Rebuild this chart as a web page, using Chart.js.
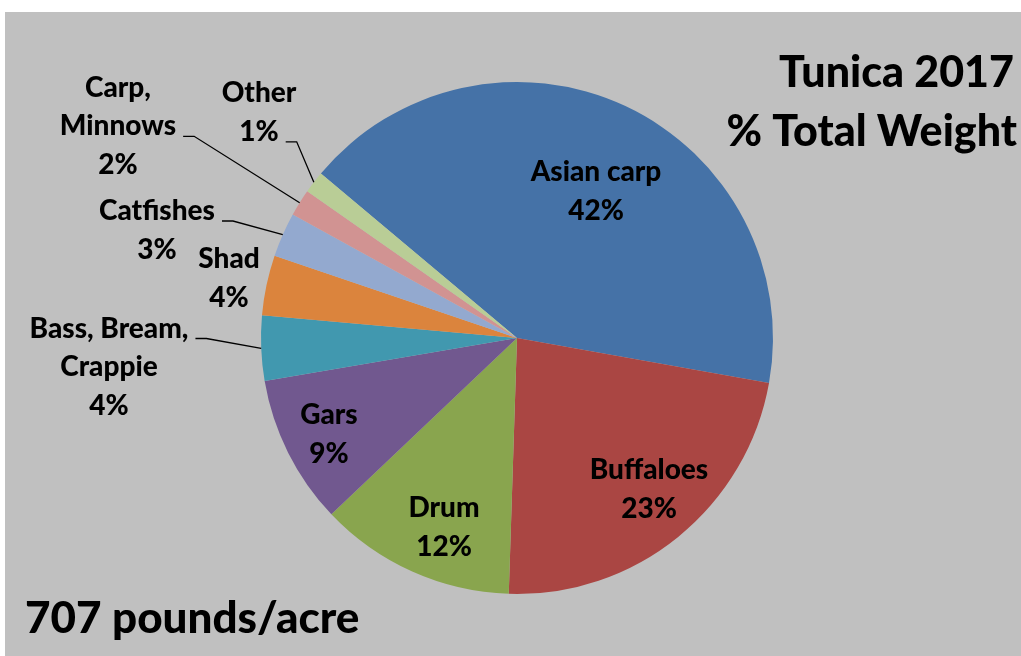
<!DOCTYPE html>
<html>
<head>
<meta charset="utf-8">
<script src="https://cdn.jsdelivr.net/npm/chart.js@4.4.0/dist/chart.umd.min.js"></script>
<style>
  html, body { margin: 0; padding: 0; background: #ffffff; }
  canvas { display: block; }
</style>
</head>
<body>
<canvas id="grafico" width="1021" height="656"></canvas>
<script>
// Datos (porcentaje del peso total)
const categorias = ['Asian carp', 'Buffaloes', 'Drum', 'Gars', 'Bass, Bream, Crappie', 'Shad', 'Catfishes', 'Carp, Minnows', 'Other'];
const pesos = [41.7, 22.7, 12.4, 9.4, 4.1, 3.8, 2.8, 1.7, 1.4];
const colores = ['#4572A7', '#AA4643', '#89A54E', '#71588F', '#4198AF', '#DB843D', '#93A9CF', '#D19392', '#B9CD96'];
const titulo = ['Tunica 2017', '% Total Weight'];
const nota = '707 pounds/acre';

// Posición de cada etiqueta (centro x, primera línea base y) y línea guía
const posEtiquetas = [
  { x: 596, y: 181 },
  { x: 649, y: 479 },
  { x: 444, y: 517 },
  { x: 329, y: 424 },
  { x: 109, y: 337.5, guia: 0 },
  { x: 229, y: 268 },
  { x: 157, y: 220, guia: 0 },
  { x: 118, y: 96.5, guia: 1 },
  { x: 259, y: 102, guia: 1 }
];

const fuente = 'Lato, "Open Sans", sans-serif';
const altoLinea = 38.8;

function partir(nombre) {
  let i = nombre.lastIndexOf(', ');
  if (i < 0) return [nombre];
  return [nombre.slice(0, i + 1), nombre.slice(i + 2)];
}

const fondo = {
  id: 'fondo',
  beforeDraw(chart) {
    let ctx = chart.ctx;
    ctx.save();
    ctx.fillStyle = '#C0C0C0';
    ctx.fillRect(5, 12, chart.width - 5, chart.height - 12);
    ctx.restore();
  }
};

const etiquetas = {
  id: 'etiquetas',
  afterDatasetsDraw(chart) {
    let ctx = chart.ctx;
    let meta = chart.getDatasetMeta(0);
    let total = pesos.reduce((a, b) => a + b, 0);
    ctx.save();
    ctx.fillStyle = '#000';
    ctx.strokeStyle = '#000';
    ctx.lineWidth = 1.3;
    ctx.textAlign = 'center';
    ctx.textBaseline = 'alphabetic';
    ctx.font = '900 28px ' + fuente;
    meta.data.forEach((arco, i) => {
      let p = posEtiquetas[i];
      let lineas = partir(categorias[i]);
      lineas.push(Math.round(pesos[i] / total * 100) + '%');
      lineas.forEach((t, k) => ctx.fillText(t, p.x, p.y + k * altoLinea));
      if (p.guia !== undefined) {
        let w = ctx.measureText(lineas[p.guia]).width;
        let x0 = p.x + w / 2 + 7;
        let y0 = p.y + p.guia * altoLinea + 1;
        let medio = (arco.startAngle + arco.endAngle) / 2;
        let x2 = arco.x + Math.cos(medio) * arco.outerRadius;
        let y2 = arco.y + Math.sin(medio) * arco.outerRadius;
        ctx.beginPath();
        ctx.moveTo(x0, y0);
        ctx.lineTo(x0 + 11, y0);
        ctx.lineTo(x2, y2);
        ctx.stroke();
      }
    });
    // Títulos
    ctx.font = '900 43px ' + fuente;
    ctx.textAlign = 'right';
    ctx.fillText(titulo[0], 1014, 87);
    ctx.fillText(titulo[1], 1017, 146);
    ctx.textAlign = 'left';
    ctx.font = '900 44px ' + fuente;
    ctx.fillText(nota, 25, 633);
    ctx.restore();
  }
};

function dibujar() {
  let grafico = document.getElementById('grafico').getContext('2d');
  new Chart(grafico, {
    type: 'pie',
    data: {
      labels: categorias,
      datasets: [{
        data: pesos,
        backgroundColor: colores,
        borderWidth: 0
      }]
    },
    options: {
      responsive: false,
      animation: false,
      rotation: -50,
      layout: { padding: { top: 82, bottom: 62, left: 261, right: 248 } },
      plugins: {
        legend: { display: false },
        tooltip: { enabled: false },
        title: { display: false }
      }
    },
    plugins: [fondo, etiquetas]
  });
}

document.fonts.load('900 28px Lato').then(dibujar, dibujar);
</script>
</body>
</html>
